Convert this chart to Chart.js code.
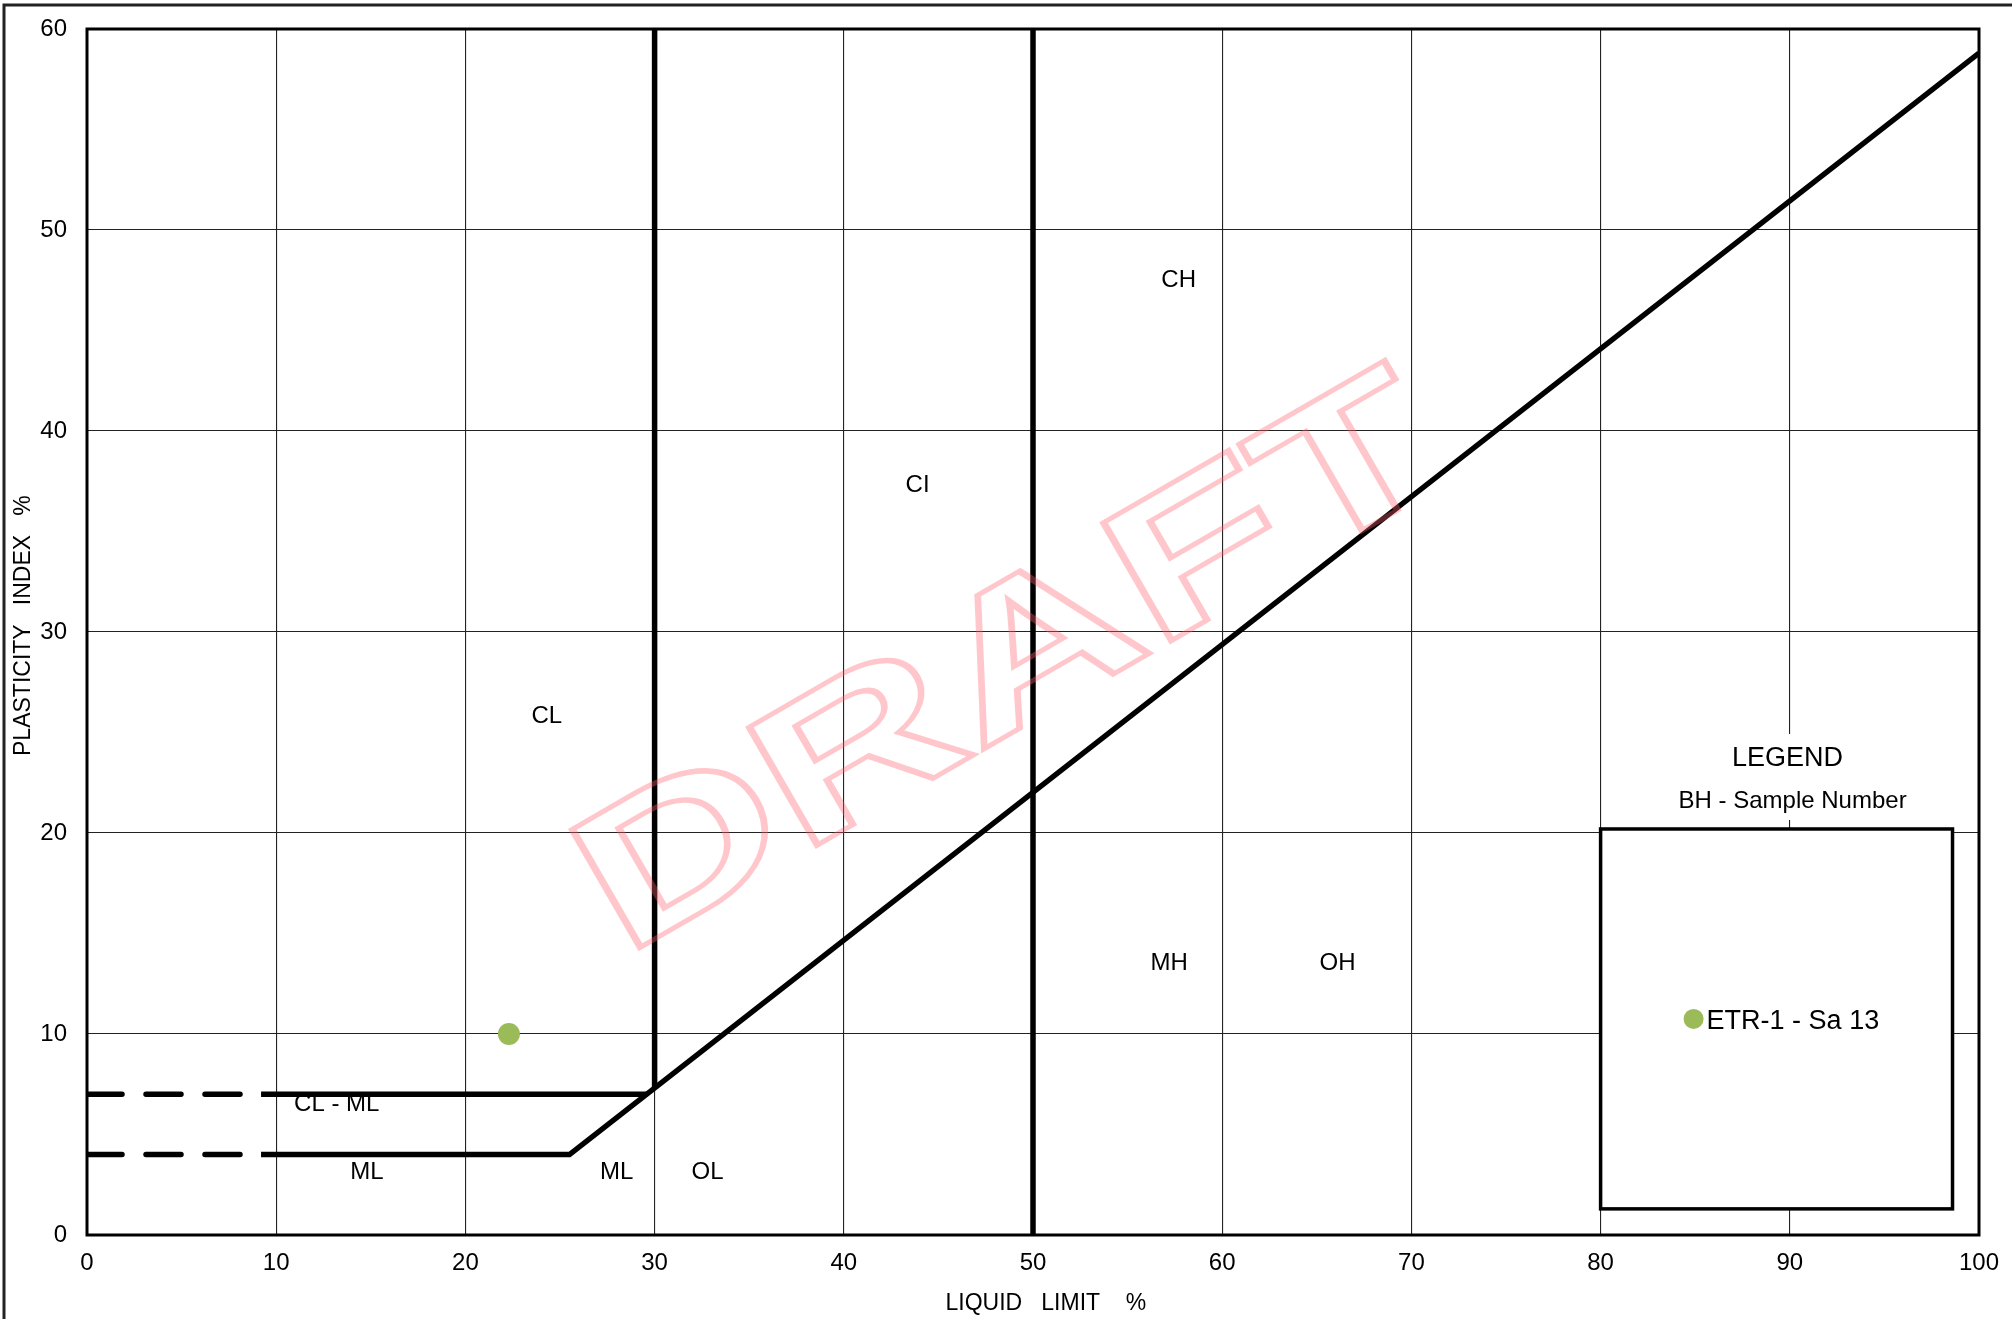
<!DOCTYPE html>
<html>
<head>
<meta charset="utf-8">
<title>Plasticity Chart</title>
<script src="https://cdn.jsdelivr.net/npm/chart.js@4.4.1/dist/chart.umd.min.js"></script>
<style>
  html, body { margin: 0; padding: 0; background: #fff; }
  canvas { display: block; }
</style>
</head>
<body>
<canvas id="plasticity" width="2012" height="1319"></canvas>
<script>
/* ============================
   Plasticity chart ‚Äî data
============================ */
const xTickValues = [0, 10, 20, 30, 40, 50, 60, 70, 80, 90, 100];
const yTickValues = [0, 10, 20, 30, 40, 50, 60];

// boundary lines as [LL, PI] pairs
const aLineDashed = [[0, 4], [9.2, 4]];
const aLine = [[9.2, 4], [25.5, 4], [100, 58.8]];
const clmlDashed = [[0, 7], [9.2, 7]];
const clmlLine = [[9.2, 7], [29.6, 7]];
const ll30Line = [[30, 7.3], [30, 60]];
const ll50Line = [[50, 0], [50, 60]];

// samples
const sampleNames = ['ETR-1 - Sa 13'];
const sampleLL = [22.3];
const samplePI = [10.0];

// zone labels
const zoneNames = ['CH', 'CI', 'CL', 'MH', 'OH', 'CL - ML', 'ML', 'ML', 'OL'];
const zoneLL = [57.7, 43.9, 24.3, 57.2, 66.1, 13.2, 14.8, 28.0, 32.8];
const zonePI = [47.5, 37.3, 25.8, 13.5, 13.5, 6.5, 3.1, 3.1, 3.1];

// legend box extent (LL / PI)
const legendLL = [80, 98.6];
const legendPI = [1.3, 20.2];

const FONT = '"Liberation Sans", Arial, Helvetica, sans-serif';
const GREEN = '#9BBB59';

const toPts = arr => arr.map(p => ({ x: p[0], y: p[1] }));

function boundary(pts, dashed) {
  return {
    data: toPts(pts),
    showLine: true,
    borderColor: '#000',
    borderWidth: 5.5,
    borderDash: dashed ? [35, 24] : [],
    borderCapStyle: dashed ? 'round' : 'butt',
    pointRadius: 0,
    fill: false,
    tension: 0
  };
}

/* ---------- Plugins ---------- */
const pageFrame = {
  id: 'pageFrame',
  beforeDraw(chart) {
    const { ctx } = chart;
    ctx.save();
    ctx.fillStyle = '#fff';
    ctx.fillRect(0, 0, chart.width, chart.height);
    ctx.strokeStyle = '#222';
    ctx.lineWidth = 3;
    ctx.strokeRect(4, 5, chart.width + 50, chart.height + 50);
    ctx.restore();
  }
};

const plotFrame = {
  id: 'plotFrame',
  afterDatasetsDraw(chart) {
    const { ctx, chartArea: a } = chart;
    ctx.save();
    ctx.strokeStyle = '#000';
    ctx.lineWidth = 3;
    ctx.strokeRect(a.left, a.top, a.right - a.left, a.bottom - a.top);
    ctx.restore();
  }
};

const zoneText = {
  id: 'zoneText',
  afterDatasetsDraw(chart) {
    const { ctx, scales: { x, y } } = chart;
    ctx.save();
    ctx.fillStyle = '#000';
    ctx.font = '24px ' + FONT;
    ctx.textAlign = 'center';
    ctx.textBaseline = 'middle';
    zoneNames.forEach((n, i) => {
      ctx.fillText(n, x.getPixelForValue(zoneLL[i]), y.getPixelForValue(zonePI[i]));
    });
    ctx.restore();
  }
};

const legendBox = {
  id: 'legendBox',
  afterDraw(chart) {
    const { ctx, scales: { x, y } } = chart;
    const l = x.getPixelForValue(legendLL[0]);
    const r = x.getPixelForValue(legendLL[1]);
    const t = y.getPixelForValue(legendPI[1]);
    const b = y.getPixelForValue(legendPI[0]);
    const mid = (t + b) / 2;
    ctx.save();
    ctx.fillStyle = '#fff';
    ctx.fillRect(l, t, r - l, b - t);
    ctx.fillRect(l + 30, t - 95, r - l - 20, 86);
    ctx.strokeStyle = '#000';
    ctx.lineWidth = 3.5;
    ctx.strokeRect(l, t, r - l, b - t);

    ctx.fillStyle = '#000';
    ctx.textAlign = 'center';
    ctx.textBaseline = 'alphabetic';
    ctx.font = '27px ' + FONT;
    ctx.fillText('LEGEND', l + 187, t - 63);
    ctx.font = '24px ' + FONT;
    ctx.fillText('BH - Sample Number', l + 192, t - 21);

    sampleNames.forEach((n, i) => {
      const cy = mid + i * 40;
      ctx.fillStyle = GREEN;
      ctx.beginPath();
      ctx.arc(l + 93, cy, 10, 0, Math.PI * 2);
      ctx.fill();
      ctx.fillStyle = '#000';
      ctx.textAlign = 'left';
      ctx.font = '27px ' + FONT;
      ctx.fillText(n, l + 106, cy + 10);
    });
    ctx.restore();
  }
};

const watermark = {
  id: 'watermark',
  afterDraw(chart) {
    const { ctx, width, height } = chart;
    const size = 198;
    ctx.save();
    ctx.translate(width / 2 - 2, height / 2 - 4);
    ctx.rotate(-30 * Math.PI / 180);
    ctx.scale(1.43, 1);
    ctx.font = 'bold ' + size + 'px ' + FONT;
    ctx.textAlign = 'center';
    ctx.textBaseline = 'alphabetic';
    ctx.strokeStyle = 'rgba(255, 100, 110, 0.36)';
    ctx.lineWidth = 5;
    ctx.lineJoin = 'miter';
    ctx.strokeText('DRAFT', 0, size * 0.716 / 2);
    ctx.restore();
  }
};

/* ---------- Chart ---------- */
const gridOpts = { color: '#222', lineWidth: 1.1, drawTicks: false };
const tickFont = { family: FONT, size: 24 };
const titleFont = { family: FONT, size: 23 };

new Chart(document.getElementById('plasticity'), {
  type: 'scatter',
  data: {
    datasets: [
      boundary(aLineDashed, true),
      boundary(aLine, false),
      boundary(clmlDashed, true),
      boundary(clmlLine, false),
      boundary(ll30Line, false),
      boundary(ll50Line, false),
      {
        label: sampleNames[0],
        data: sampleLL.map((v, i) => ({ x: v, y: samplePI[i] })),
        pointRadius: 11,
        pointBackgroundColor: GREEN,
        pointBorderWidth: 0,
        showLine: false
      }
    ]
  },
  options: {
    responsive: false,
    animation: false,
    events: [],
    layout: { padding: { top: 29, right: 33, left: 0, bottom: 0 } },
    plugins: {
      legend: { display: false },
      tooltip: { enabled: false }
    },
    scales: {
      x: {
        type: 'linear',
        min: 0, max: 100,
        afterBuildTicks: s => { s.ticks = xTickValues.map(v => ({ value: v })); },
        afterFit: s => { s.height = 84; s.paddingLeft = 0; s.paddingRight = 0; },
        ticks: { color: '#000', font: tickFont, padding: 14, maxRotation: 0 },
        grid: gridOpts,
        border: { display: false },
        title: {
          display: true,
          text: '    LIQUID   LIMIT    %',
          color: '#000',
          font: titleFont,
          padding: { top: 0, bottom: 2 }
        }
      },
      y: {
        type: 'linear',
        min: 0, max: 60,
        afterBuildTicks: s => { s.ticks = yTickValues.map(v => ({ value: v })); },
        afterFit: s => { s.width = 87; s.paddingTop = 0; s.paddingBottom = 0; },
        ticks: { color: '#000', font: tickFont, padding: 20 },
        grid: gridOpts,
        border: { display: false },
        title: {
          display: true,
          text: '  PLASTICITY   INDEX   %',
          color: '#000',
          font: titleFont,
          padding: { top: 10, bottom: 0 }
        }
      }
    }
  },
  plugins: [pageFrame, plotFrame, zoneText, legendBox, watermark]
});
</script>
</body>
</html>
